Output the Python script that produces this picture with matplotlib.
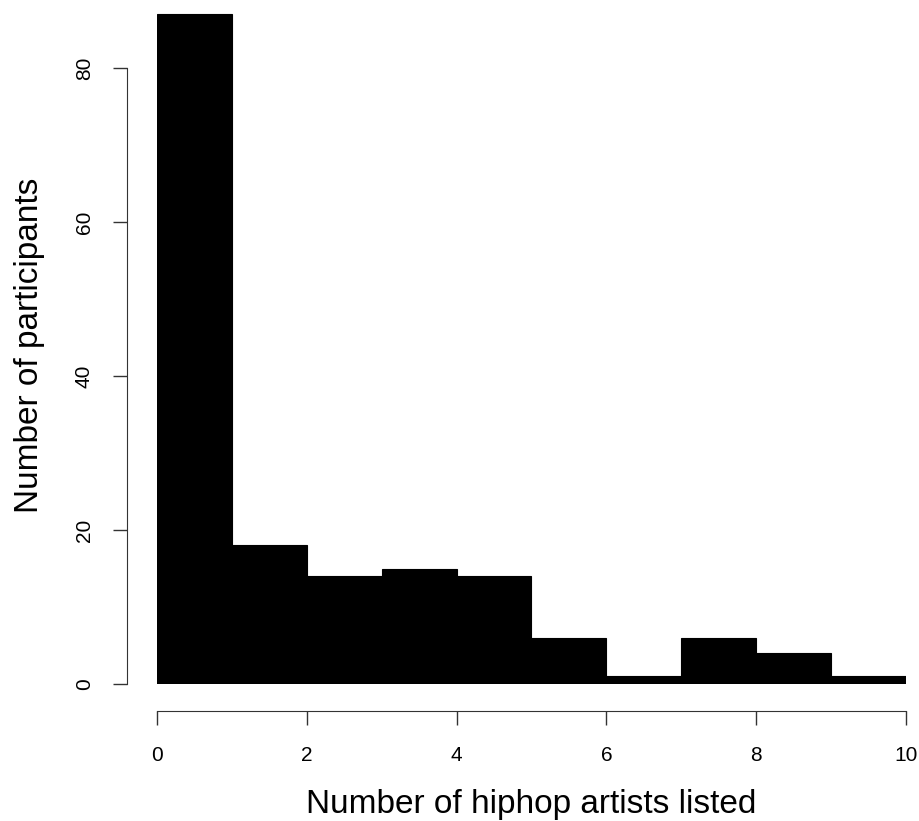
import matplotlib
matplotlib.use("Agg")
import matplotlib.pyplot as plt

plt.rcParams['font.family'] = ['Liberation Sans', 'DejaVu Sans']

# histogram of artists listed (bin edges and counts)
edges = [0, 1, 2, 3, 4, 5, 6, 7, 8, 9, 10]
counts = [87, 18, 14, 15, 14, 6, 1, 6, 4, 1]
xticks = [0, 2, 4, 6, 8, 10]
yticks = [0, 20, 40, 60, 80]

fig = plt.figure(figsize=(9.2, 8.21), dpi=100)
ax = fig.add_axes([157 / 920, 137 / 821, 749 / 920, 677.6 / 821])

ax.bar(edges[:-1], counts, width=1, align='edge', color='black',
       edgecolor='black', linewidth=0.8)

ax.set_xlim(0, 10)
ax.set_ylim(0, 88)

for s in ['top', 'right']:
    ax.spines[s].set_visible(False)
ax.spines['left'].set_position(('outward', 21.6))
ax.spines['bottom'].set_position(('outward', 19.4))
ax.spines['left'].set_bounds(0, 80)
ax.spines['bottom'].set_bounds(0, 10)
ax.spines['left'].set_color('#333333')
ax.spines['bottom'].set_color('#333333')

ax.set_xticks(xticks)
ax.set_yticks(yticks)
ax.set_yticklabels([str(v) for v in yticks], rotation=90, va='center')
ax.tick_params(axis='both', length=10, width=1, color='#333333',
               labelsize=15)
ax.tick_params(axis='x', pad=15)
ax.tick_params(axis='y', pad=14)

ax.set_xlabel('Number of hiphop artists listed', fontsize=24, labelpad=17.5)
ax.set_ylabel('Number of participants', fontsize=24, labelpad=21)

fig.savefig('out.png', dpi=100)
